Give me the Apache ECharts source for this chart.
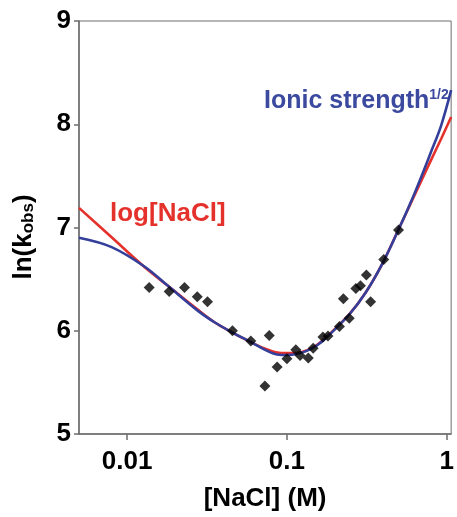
<!DOCTYPE html>
<html>
<head>
<meta charset="utf-8">
<style>
  html, body { margin: 0; padding: 0; background: #fff; }
  #chart { width: 457px; height: 517px; }
</style>
<script src="https://cdn.jsdelivr.net/npm/echarts@6/dist/echarts.min.js"></script>
</head>
<body>
<div id="chart"></div>
<script>
// measured points: [NaCl] (M), ln(kobs)
const points = [
  [0.01374, 6.42], [0.01833, 6.38], [0.02286, 6.42], [0.02748, 6.33], [0.03185, 6.28],
  [0.0456, 6.00], [0.0594, 5.90], [0.0775, 5.955], [0.0728, 5.465], [0.0868, 5.65],
  [0.100, 5.73], [0.1136, 5.815], [0.1208, 5.76], [0.136, 5.735], [0.146, 5.83],
  [0.168, 5.94], [0.1806, 5.95], [0.2131, 6.04], [0.2254, 6.31], [0.2454, 6.12],
  [0.2699, 6.41], [0.2883, 6.435], [0.314, 6.54], [0.334, 6.28], [0.4034, 6.69],
  [0.499, 6.975]
];

// fit curves
const curveX = [0.005, 0.008, 0.0129, 0.018, 0.0279, 0.0354, 0.0447, 0.0594,
  0.0719, 0.0868, 0.100, 0.115, 0.133, 0.153, 0.177, 0.246, 0.311, 0.394, 0.499, 0.632, 0.801, 0.923, 1.065];
const logNaCl = [7.19, 6.905, 6.615, 6.435, 6.20, 6.08, 5.99, 5.89,
  5.83, 5.79, 5.785, 5.785, 5.81, 5.86, 5.94, 6.16, 6.37, 6.645, 6.98, 7.32, 7.66, 7.86, 8.07];
const ionicSqrt = [6.90, 6.81, 6.62, 6.435, 6.19, 6.08, 5.99, 5.89,
  5.82, 5.77, 5.765, 5.775, 5.805, 5.855, 5.935, 6.16, 6.37, 6.645, 6.98, 7.34, 7.74, 7.99, 8.33];

const xTicks = [0.01, 0.1, 1];
const yMin = 5, yMax = 9;

const axisGrey = '#6e6e6e';
const fontFam = '"Liberation Sans", Arial, sans-serif';

const chart = echarts.init(document.getElementById('chart'));

chart.setOption({
  animation: false,
  grid: {
    left: 79, top: 21, right: 1, bottom: 81,
    show: true, borderColor: axisGrey, borderWidth: 1,
    containLabel: false
  },
  xAxis: {
    type: 'log',
    logBase: 10,
    min: 0.005,
    max: 1.065,
    name: '[NaCl] (M)',
    nameLocation: 'middle',
    nameGap: 52,
    nameTextStyle: { fontFamily: fontFam, fontSize: 26, fontWeight: 'bold', color: '#000' },
    axisLine: { show: true, lineStyle: { color: axisGrey, width: 1.5 } },
    axisTick: { show: true, length: 6, customValues: xTicks, lineStyle: { color: axisGrey, width: 1.5 } },
    axisLabel: {
      customValues: xTicks,
      margin: 15,
      fontFamily: fontFam, fontSize: 26, fontWeight: 'bold', color: '#000',
      formatter: v => String(+v.toPrecision(3))
    },
    splitLine: { show: false }
  },
  yAxis: {
    type: 'value',
    min: yMin,
    max: yMax,
    interval: 1,
    axisLine: { show: true, lineStyle: { color: axisGrey, width: 1.5 } },
    axisTick: { show: true, length: 5, lineStyle: { color: axisGrey, width: 1.5 } },
    axisLabel: { margin: 8, fontFamily: fontFam, fontSize: 26, fontWeight: 'bold', color: '#000' },
    splitLine: { show: false }
  },
  graphic: [
    {
      type: 'text',
      x: 24, y: 237,
      rotation: Math.PI / 2,
      style: {
        text: '{a|ln(k}{b|obs}{a|)}',
        align: 'center',
        verticalAlign: 'middle',
        fill: '#000',
        rich: {
          a: { fontFamily: fontFam, fontSize: 26, fontWeight: 'bold', fill: '#000' },
          b: { fontFamily: fontFam, fontSize: 17, fontWeight: 'bold', fill: '#000', verticalAlign: 'bottom' }
        }
      }
    },
    {
      type: 'text',
      x: 110, y: 214,
      style: {
        text: 'log[NaCl]',
        align: 'left', verticalAlign: 'middle',
        fontFamily: fontFam, fontSize: 26, fontWeight: 'bold',
        fill: '#e5312b'
      }
    },
    {
      type: 'text',
      x: 264, y: 101,
      style: {
        text: '{m|Ionic strength}{s|1/2}',
        align: 'left', verticalAlign: 'middle',
        rich: {
          m: { fontFamily: fontFam, fontSize: 25, fontWeight: 'bold', fill: '#3b4a9f' },
          s: { fontFamily: fontFam, fontSize: 14, fontWeight: 'bold', fill: '#3b4a9f', verticalAlign: 'top' }
        }
      }
    }
  ],
  series: [
    {
      name: 'log[NaCl]',
      type: 'line',
      data: curveX.map((x, i) => [x, logNaCl[i]]),
      smooth: 0.35,
      showSymbol: false,
      lineStyle: { color: '#e5312b', width: 2.6 },
      z: 2
    },
    {
      name: 'Ionic strength^1/2',
      type: 'line',
      data: curveX.map((x, i) => [x, ionicSqrt[i]]),
      smooth: 0.35,
      showSymbol: false,
      lineStyle: { color: '#343f9c', width: 2.6 },
      z: 3
    },
    {
      name: 'data',
      type: 'scatter',
      data: points,
      symbol: 'diamond',
      symbolSize: 11,
      itemStyle: { color: '#000' },
      z: 4
    }
  ]
});
</script>
</body>
</html>
